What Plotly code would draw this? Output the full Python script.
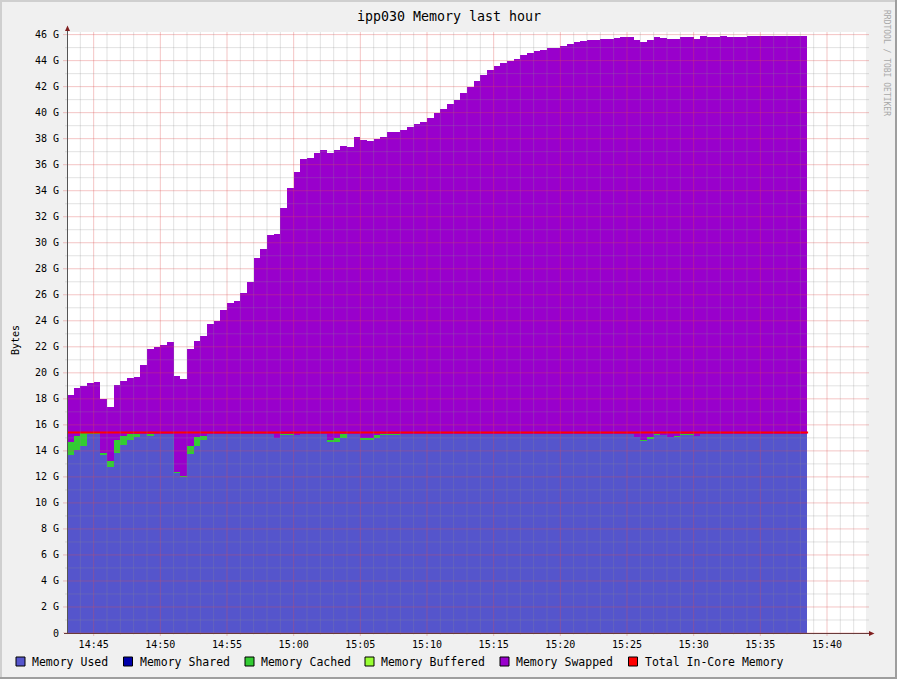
import pandas as pd
import plotly.graph_objects as go

# ---- data (GB, 30 s steps from 14:43) ----
memory_used = [
    13.67, 14.08, 14.38, 15.30, 15.30, 13.70, 12.77, 13.87, 14.49, 14.85, 15.08, 15.30, 15.20,
    15.33, 15.33, 15.33,
    12.30, 12.00, 13.77, 14.38, 14.85,
    15.33, 15.33, 15.33, 15.33, 15.33, 15.33, 15.33, 15.33, 15.33, 15.33,
    14.98, 15.23, 15.28, 15.23,
    15.33, 15.33, 15.33, 15.33,
    14.75, 14.70, 15.00,
    15.33, 15.33,
    14.85, 14.82, 15.00, 15.25, 15.28, 15.28,
    15.33, 15.33, 15.33, 15.33, 15.33, 15.33, 15.33, 15.33, 15.33, 15.33,
    15.33, 15.33, 15.33, 15.33, 15.33, 15.33, 15.33, 15.33, 15.33, 15.33,
    15.33, 15.33, 15.33, 15.33, 15.33, 15.33, 15.33, 15.33, 15.33, 15.33,
    15.33, 15.33, 15.33, 15.33, 15.33,
    15.10, 14.80, 14.98, 15.25, 15.20, 15.10, 15.10, 15.25, 15.25, 15.15,
    15.33, 15.33, 15.33, 15.33, 15.33, 15.33, 15.33, 15.33,
    15.33, 15.33, 15.33, 15.33, 15.33, 15.33, 15.33, 15.33,
]
memory_cached = [
    1.00, 1.07, 0.98, 0.05, 0.05, 0.15, 0.46, 0.98, 0.66, 0.45, 0.22, 0.03, 0.10,
    0.00, 0.00, 0.00,
    0.08, 0.10, 0.61, 0.67, 0.33,
    0.00, 0.00, 0.00, 0.00, 0.00, 0.00, 0.00, 0.00, 0.00, 0.00,
    0.00, 0.05, 0.05, 0.00,
    0.00, 0.00, 0.00, 0.00,
    0.07, 0.30, 0.30,
    0.00, 0.00,
    0.15, 0.18, 0.20, 0.08, 0.05, 0.05,
    0.00, 0.00, 0.00, 0.00, 0.00, 0.00, 0.00, 0.00, 0.00, 0.00,
    0.00, 0.00, 0.00, 0.00, 0.00, 0.00, 0.00, 0.00, 0.00, 0.00,
    0.00, 0.00, 0.00, 0.00, 0.00, 0.00, 0.00, 0.00, 0.00, 0.00,
    0.00, 0.00, 0.00, 0.00, 0.00,
    0.00, 0.07, 0.05, 0.08, 0.00, 0.00, 0.05, 0.05, 0.05, 0.00,
    0.00, 0.00, 0.00, 0.00, 0.00, 0.00, 0.00, 0.00,
    0.00, 0.00, 0.00, 0.00, 0.00, 0.00, 0.00, 0.00,
]
# top of the whole stack (used + cached + swapped)
stack_top = [
    18.30, 18.80, 19.00, 19.20, 19.30, 18.00, 17.40, 19.05, 19.40, 19.60,
    19.70, 20.60, 21.80, 22.00, 22.15, 22.40, 19.75, 19.50, 21.80, 22.45,
    22.80, 23.75, 24.00, 24.85, 25.40, 25.50, 26.10, 27.00, 28.80, 29.50,
    30.60, 30.70, 32.70, 34.20, 35.40, 36.40, 36.55, 36.90, 37.15, 36.90,
    37.15, 37.40, 37.35, 38.15, 37.90, 37.85, 38.00, 38.15, 38.50, 38.55,
    38.70, 38.90, 39.10, 39.25, 39.60, 40.00, 40.30, 40.70, 41.00, 41.50,
    42.00, 42.40, 42.90, 43.30, 43.60, 43.85, 43.95, 44.15, 44.45, 44.60,
    44.75, 44.85, 44.95, 45.00, 45.10, 45.25, 45.40, 45.50, 45.55, 45.60,
    45.70, 45.70, 45.75, 45.85, 45.85, 45.60, 45.40, 45.55, 45.80, 45.75,
    45.65, 45.70, 45.85, 45.80, 45.70, 45.90, 45.85, 45.85, 45.90, 45.85,
    45.85, 45.80, 45.90, 45.90, 45.90, 45.90, 45.90, 45.90, 45.90, 45.90, 45.90,
]
in_core_times = ["2024-01-01 14:43:00", "2024-01-01 15:38:35"]
in_core_total = [15.42, 15.42]

y_ticks = list(range(0, 47, 2))
y_labels = ["0"] + [f"{v} G" for v in y_ticks[1:]]
x_ticks = pd.date_range("2024-01-01 14:45", "2024-01-01 15:40", freq="5min")

legend_labels = ["Memory Used", "Memory Shared", "Memory Cached",
                 "Memory Buffered", "Memory Swapped", "Total In-Core Memory"]
legend_colors = ["#5555CC", "#0000AA", "#33CC33", "#99FF33", "#9900CC", "#FF0000"]

memory_swapped = [t - u - c for t, u, c in zip(stack_top, memory_used, memory_cached)]
times = pd.date_range("2024-01-01 14:43:00", periods=len(memory_used), freq="30s")

# ---- page geometry (pixels) ----
W, H = 897, 679
L, R, T, B = 67, 30, 32, 46
PW, PH = W - L - R, H - T - B
FONT = "DejaVu Sans Mono"
GRID = "rgba(143,143,143,0.26)"
MGRID = "rgba(222,79,79,0.33)"


def px(x):
    return (x - L) / PW


def py(y):
    return (H - B - y) / PH


fig = go.Figure()
for vals, col in [(memory_used, "#5555CC"), (memory_cached, "#33CC33"), (memory_swapped, "#9900CC")]:
    fig.add_trace(go.Bar(x=times, y=vals, width=30000, offset=0, marker=dict(color=col, line_width=0),
                         showlegend=False, hoverinfo="skip"))
fig.add_trace(go.Scatter(x=in_core_times, y=in_core_total, mode="lines",
                         line=dict(color="#FF0000", width=2), showlegend=False, hoverinfo="skip"))

shapes = []
# grid drawn over the data, like rrdtool
for m in pd.date_range("2024-01-01 14:43", "2024-01-01 15:43", freq="1min"):
    major = m.minute % 5 == 0
    shapes.append(dict(type="line", xref="x", yref="paper", x0=m, x1=m,
                       y0=py(636 if major else 634.5), y1=1,
                       line=dict(color=MGRID if major else GRID, width=1), layer="above"))
for g in range(0, 47):
    major = g % 2 == 0
    shapes.append(dict(type="line", xref="paper", yref="y", x0=px(63 if major else 65), x1=px(869),
                       y0=g, y1=g, line=dict(color=MGRID if major else GRID, width=1), layer="above"))
# axes and arrows
shapes.append(dict(type="line", xref="paper", yref="paper", x0=px(67.5), x1=px(67.5), y0=py(633.5), y1=py(28),
                   line=dict(color="#555555", width=1), layer="above"))
shapes.append(dict(type="line", xref="paper", yref="paper", x0=px(64), x1=px(870), y0=py(633.5), y1=py(633.5),
                   line=dict(color="#6A3A3A", width=1), layer="above"))
shapes.append(dict(type="path", xref="paper", yref="paper",
                   path=f"M{px(65)},{py(31)} L{px(70)},{py(31)} L{px(67.5)},{py(25.5)} Z",
                   fillcolor="#801F1F", line=dict(width=0), layer="above"))
shapes.append(dict(type="path", xref="paper", yref="paper",
                   path=f"M{px(869)},{py(631)} L{px(869)},{py(636)} L{px(874.5)},{py(633.5)} Z",
                   fillcolor="#801F1F", line=dict(width=0), layer="above"))
# 3d frame
for x0, y0, x1, y1, col in [(0, 0, W, 2, "#CFCFCF"), (0, 0, 2, H, "#CFCFCF"),
                            (W - 2, 0, W, H, "#9E9E9E"), (0, H - 2, W, H, "#9E9E9E")]:
    shapes.append(dict(type="rect", xref="paper", yref="paper", x0=px(x0), x1=px(x1), y0=py(y0), y1=py(y1),
                       fillcolor=col, line=dict(width=0), layer="above"))

annotations = [
    dict(text="ipp030 Memory last hour", x=px(448.5), y=py(16), font=dict(size=13.3)),
    dict(text="Bytes", x=px(15), y=py(340), textangle=-90, font=dict(size=10)),
    dict(text="RRDTOOL / TOBI OETIKER", x=px(886.5), y=py(62.5), textangle=90,
         font=dict(size=8, color="#A8A8A8")),
]
box_x = [16, 123.5, 245, 365, 500, 628.5]
for bx, lab, col in zip(box_x, legend_labels, legend_colors):
    shapes.append(dict(type="rect", xref="paper", yref="paper", x0=px(bx), x1=px(bx + 9),
                       y0=py(657), y1=py(666), fillcolor=col, line=dict(color="#000000", width=1)))
    annotations.append(dict(text=lab, x=px(bx + 14), y=py(661.5), xanchor="left", font=dict(size=11.5)))
for a in annotations:
    a.update(xref="paper", yref="paper", showarrow=False)
    a.setdefault("xanchor", "center")
    a["yanchor"] = "middle"
    a["font"].setdefault("color", "#000000")
    a["font"]["family"] = FONT

fig.update_layout(
    width=W, height=H, margin=dict(l=L, r=R, t=T, b=B, pad=0),
    paper_bgcolor="#F0F0F0", plot_bgcolor="#FFFFFF",
    barmode="stack", bargap=0,
    font=dict(family=FONT, size=10, color="#000000"),
    shapes=shapes, annotations=annotations,
    xaxis=dict(type="date", range=["2024-01-01 14:43:00", "2024-01-01 15:43:00"],
               tickvals=list(x_ticks), tickformat="%H:%M", showgrid=False, zeroline=False,
               ticks="", showline=False, ticklabelstandoff=4, fixedrange=True),
    yaxis=dict(range=[0, 46.2], tickvals=y_ticks, ticktext=y_labels, showgrid=False, zeroline=False,
               ticks="", showline=False, ticklabelstandoff=7, fixedrange=True),
)

# drop the default 8px body margin so the chart sits at the window corner
fig.write_html("out.html", config={"displayModeBar": False},
               post_script="document.body.style.margin='0';")
